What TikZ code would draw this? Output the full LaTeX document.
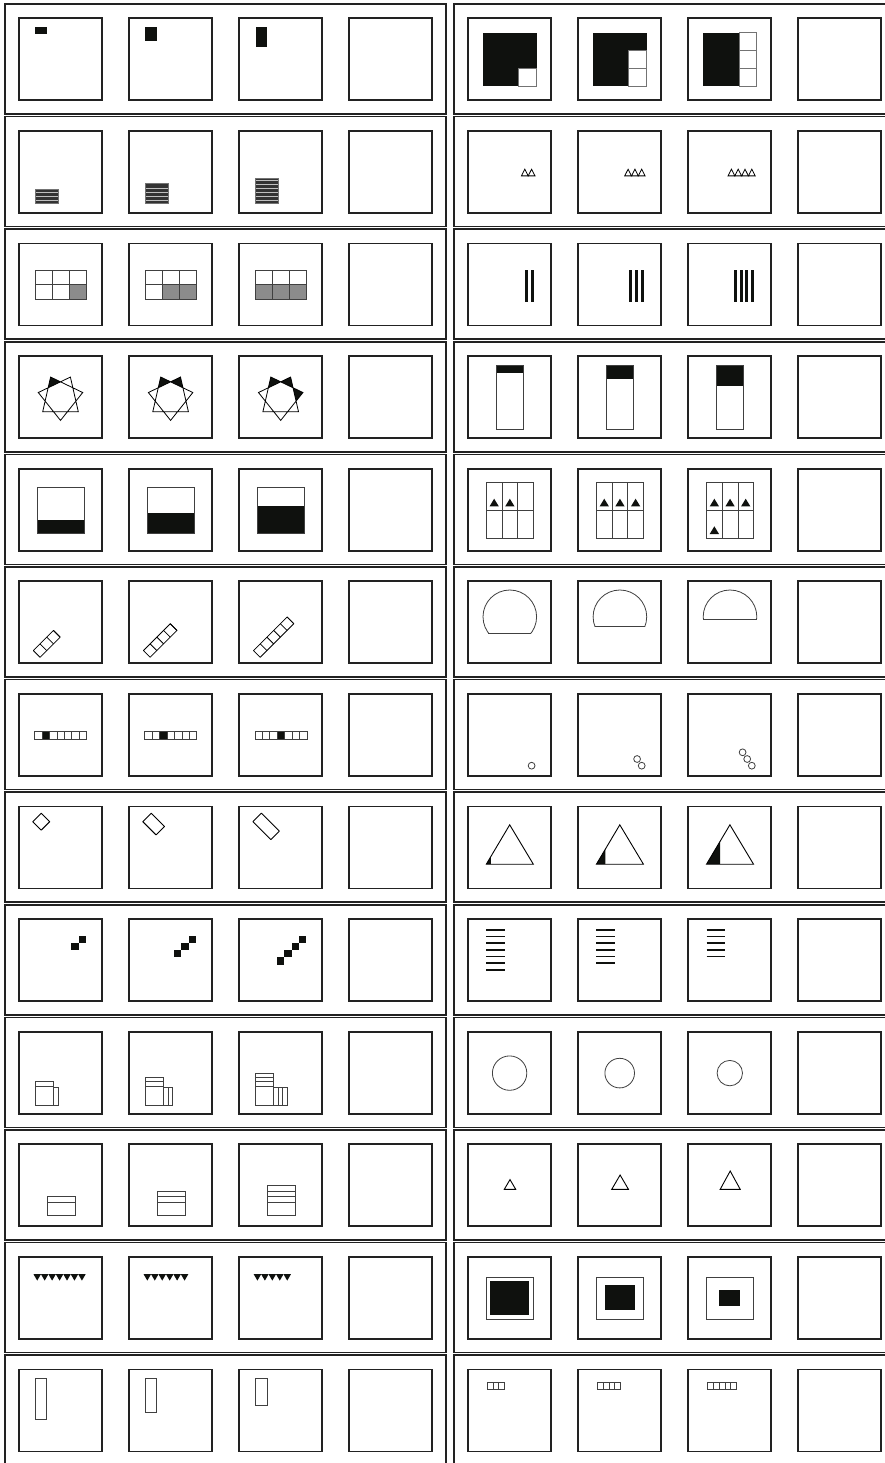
\documentclass[tikz,border=0pt]{standalone}
\definecolor{ink}{HTML}{0F110E}
\definecolor{frame}{HTML}{222222}
\tikzset{
 panel/.style={draw=frame, line width=1.7pt},
 cellbox/.style={draw=frame, line width=1.7pt},
 thinline/.style={draw=black!75, line width=0.8pt},
}
\newcommand\Lb[3]{\begin{scope}[shift={({19+110.1*(#2)},{18.3+112.6*(#1)})}]#3\end{scope}}
\newcommand\Rb[3]{\begin{scope}[shift={({468+110.1*(#2)},{18.3+112.6*(#1)})}]#3\end{scope}}
\begin{document}
\begin{tikzpicture}[x=1pt,y=-1pt]
\useasboundingbox (0,0) rectangle (885,1463);
\fill[white] (0,0) rectangle (885,1463);
% panels
\foreach \i in {0,...,12}{
  \draw[panel] (5,{4+112.6*\i}) rectangle (446,{114+112.6*\i});
  \draw[panel] (454,{4+112.6*\i}) rectangle (895,{114+112.6*\i});
}
% cells
\foreach \i in {0,...,12}{\foreach \j in {0,...,3}{
  \Lb{\i}{\j}{\draw[cellbox] (0,0) rectangle (83,82);}
  \Rb{\i}{\j}{\draw[cellbox] (0,0) rectangle (83,82);}
}}
% ---- row 0
\foreach \j in {0,1,2}{\Lb{0}{\j}{\fill[ink] (16.3,9) rectangle (27.7,{16+6.5*\j});}}
\foreach \j in {0,1,2}{\Rb{0}{\j}{\fill[ink] (15,14.3) rectangle (68.5,67.8);
  \foreach \r in {0,...,\j}{\draw[draw=black!55,line width=0.7pt,fill=white] (50.67,{49.96-17.83*\r}) rectangle +(17.83,17.83);}}}
% ---- row 1
\foreach \j/\t/\m in {0/58.7/3,1/52.7/4,2/47/6}{\Lb{1}{\j}{\fill[black!80,draw=black!55,line width=0.6pt] (16.3,\t) rectangle (39,72);
  \foreach \k in {1,...,\m}{\draw[white!75!black,line width=1pt] (16.8,{74-4*\k}) -- (38.5,{74-4*\k});}}}
\foreach \j/\n in {0/1,1/2,2/3}{\Rb{1}{\j}{\foreach \k in {0,...,\n}{\draw[line width=0.8pt] ({67-6.8*(\k+1)},45) -- ++(3.4,-6.7) -- ++(3.4,6.7) -- cycle;}}}
% ---- row 2
\foreach \j in {0,1,2}{\Lb{2}{\j}{\foreach \c in {0,...,\j}{\fill[black!45] ({16+17.2*(2-\c)},41.2) rectangle +(17.2,14.5);}
  \draw[thinline] (16,26.7) rectangle (67.6,55.7) (33.2,26.7) -- (33.2,55.7) (50.4,26.7) -- (50.4,55.7) (16,41.2) -- (67.6,41.2);}}
\foreach \j/\n in {0/1,1/2,2/3}{\Rb{2}{\j}{\foreach \k in {0,...,\n}{\fill[ink] ({62.7-5.7*\k},26) rectangle +(3,32);}}}
% ---- row 3
\foreach \j/\n in {0/0,1/1,2/2}{\Lb{3}{\j}{\begin{scope}[shift={(41.5,41.5)}]
  \foreach \k in {0,...,\n}{\pgfmathsetmacro\a{244.286+51.4286*\k}
    \fill[ink] (\a:22.8) -- ({\a+25.714}:15.78) -- ({\a-25.714}:15.78) -- cycle;}
  \draw[line width=0.8pt] (90:22.8) -- (192.857:22.8) -- (295.714:22.8) -- (38.571:22.8) -- (141.429:22.8) -- (244.286:22.8) -- (347.143:22.8) -- cycle;
  \end{scope}}}
\foreach \j in {0,1,2}{\Rb{3}{\j}{\fill[ink] (28.3,9.3) rectangle (55.3,{16.6+6.7*\j}); \draw[thinline] (28.3,9.3) rectangle (55.3,73.7);}}
% ---- row 4
\foreach \j in {0,1,2}{\Lb{4}{\j}{\fill[ink] (18.3,{51-6.65*\j}) rectangle (65.3,64.3); \draw[thinline] (18.3,18.3) rectangle (65.3,64.3);}}
\newcommand\tri[2]{\fill[ink] ({#1-4.65},#2) -- ({#1+4.65},#2) -- (#1,{#2-7.7}) -- cycle;}
\foreach \j in {0,1,2}{\Rb{4}{\j}{\draw[thinline] (18.3,13.7) rectangle (65.3,69.3) (34,13.7) -- (34,69.3) (49.7,13.7) -- (49.7,69.3) (18.3,41.5) -- (65.3,41.5);}}
\Rb{4}{0}{\tri{26.15}{37.7}\tri{41.85}{37.7}}
\Rb{4}{1}{\tri{26.15}{37.7}\tri{41.85}{37.7}\tri{57.5}{37.7}}
\Rb{4}{2}{\tri{26.15}{37.7}\tri{41.85}{37.7}\tri{57.5}{37.7}\tri{26.15}{65.3}}
% ---- row 5
\foreach \j/\n in {0/3,1/4,2/5}{\Lb{5}{\j}{\begin{scope}[shift={(14.3,69.28)},x={(0.7071pt,0.7071pt)},y={(0.7071pt,-0.7071pt)}]
  \draw[line width=0.8pt,line join=round] (0,0) -- ({9.5*\n},0) -- ({9.5*\n},9.5) -- (0,9.5) -- cycle;
  \foreach \k in {1,...,\n}{\draw[line width=0.8pt] ({9.5*\k},0) -- ({9.5*\k},9.5);}
  \end{scope}}}
\foreach \j/\d in {0/16.2,1/9.5,2/2.8}{\Rb{5}{\j}{\begin{scope}\clip (10,5) rectangle (75,{35.5+\d}); \draw[thinline] (41.8,35.5) circle[radius=26.8]; \end{scope}
  \draw[thinline] ({41.8-sqrt(26.8*26.8-\d*\d)},{35.5+\d}) -- ({41.8+sqrt(26.8*26.8-\d*\d)},{35.5+\d});}}
% ---- row 6
\foreach \j in {0,1,2}{\Lb{6}{\j}{\fill[ink] ({15.7+7.43*(\j+1)},37.7) rectangle +(7.43,7.6); \draw[thinline] (15.7,37.7) rectangle (67.7,45.3);
  \foreach \k in {1,...,6}{\draw[thinline] ({15.7+7.43*\k},37.7) -- +(0,7.6);}}}
\foreach \j/\n in {0/0,1/1,2/2}{\Rb{6}{\j}{\foreach \k in {0,...,\n}{\draw[thinline] ({63.6-4.6*\k},{71.8-6.7*\k}) circle[radius=3.4];}}}
% ---- row 7
\foreach \j in {0,1,2}{\Lb{7}{\j}{\begin{scope}[shift={(22.2,6.7)},x={(0.7071pt,-0.7071pt)},y={(-0.7071pt,-0.7071pt)}]
  \draw[line width=0.9pt,line join=round] (0,0) -- ({12+6.7*\j},0) -- ({12+6.7*\j},12) -- (0,12) -- cycle;\end{scope}}}
\foreach \j in {0,1,2}{\Rb{7}{\j}{\fill[ink] (18.3,57.7) -- ({18.3+4.5*(\j+1)},57.7) -- ({18.3+4.5*(\j+1)},{57.7-1.684*4.5*(\j+1)}) -- cycle;
  \draw[line width=0.9pt] (18.3,57.7) -- (41.7,18.3) -- (65.3,57.7) -- cycle;}}
% ---- row 8
\foreach \j/\n in {0/1,1/2,2/3}{\Lb{8}{\j}{\foreach \k in {0,...,\n}{\fill[ink] ({59.5-7.2*\k},{16.7+7.2*\k}) rectangle +(7.2,7.2);}}}
\foreach \j/\n in {0/6,1/5,2/4}{\Rb{8}{\j}{\foreach \k in {0,...,\n}{\draw[ink,line width=1.7pt] (18.3,{10.8+6.67*\k}) -- (36.7,{10.8+6.67*\k});}}}
% ---- row 9
\foreach \j/\n in {0/1,1/2,2/3}{\Lb{9}{\j}{\draw[thinline] (16.3,54.5) rectangle (34.3,73.3);
  \foreach \k in {1,...,\n}{\draw[thinline] (16.3,{54.5-4.4*\k}) rectangle +(18,4.4);
    \draw[thinline] ({34.3+4.6*(\k-1)},55.7) rectangle +(4.6,17.6);}}}
\foreach \j/\r in {0/17.2,1/14.8,2/12.7}{\Rb{9}{\j}{\draw[thinline] (41.6,41.4) circle[radius=\r];}}
% ---- row 10
\foreach \j/\n in {0/1,1/2,2/3}{\Lb{10}{\j}{\draw[thinline] (28.5,58) rectangle (56.2,71.3);
  \foreach \k in {1,...,\n}{\draw[thinline] (28.5,{58-5.67*\k}) rectangle +(27.7,5.67);}}}
\foreach \j/\w/\h in {0/11.4/9.7,1/16.7/14.3,2/20/18.3}{\Rb{10}{\j}{\draw[line width=0.9pt] ({42-\w/2},45) -- ({42+\w/2},45) -- (42,{45-\h}) -- cycle;}}
% ---- row 11
\foreach \j/\n in {0/6,1/5,2/4}{\Lb{11}{\j}{\foreach \k in {0,...,\n}{\fill[ink] ({14.5+7.45*\k},17.3) -- +(7.45,0) -- +(3.725,6.4) -- cycle;}}}
\foreach \j/\w/\h in {0/38.6/34,1/29.7/25,2/21/16.3}{\Rb{11}{\j}{\draw[thinline] (18.3,20) rectangle (65.2,62);
  \fill[ink] ({41.7-\w/2},{41-\h/2}) rectangle ({41.7+\w/2},{41+\h/2});}}
% ---- row 12
\foreach \j/\h in {0/40.7,1/33.7,2/27}{\Lb{12}{\j}{\draw[thinline] (16.3,9) rectangle (27.7,{9+\h});}}
\foreach \j/\n in {0/3,1/4,2/5}{\Rb{12}{\j}{\foreach \k in {1,...,\n}{\draw[thinline] ({19+5.9*(\k-1)},13.3) rectangle +(5.9,6.7);}}}
\end{tikzpicture}
\end{document}
